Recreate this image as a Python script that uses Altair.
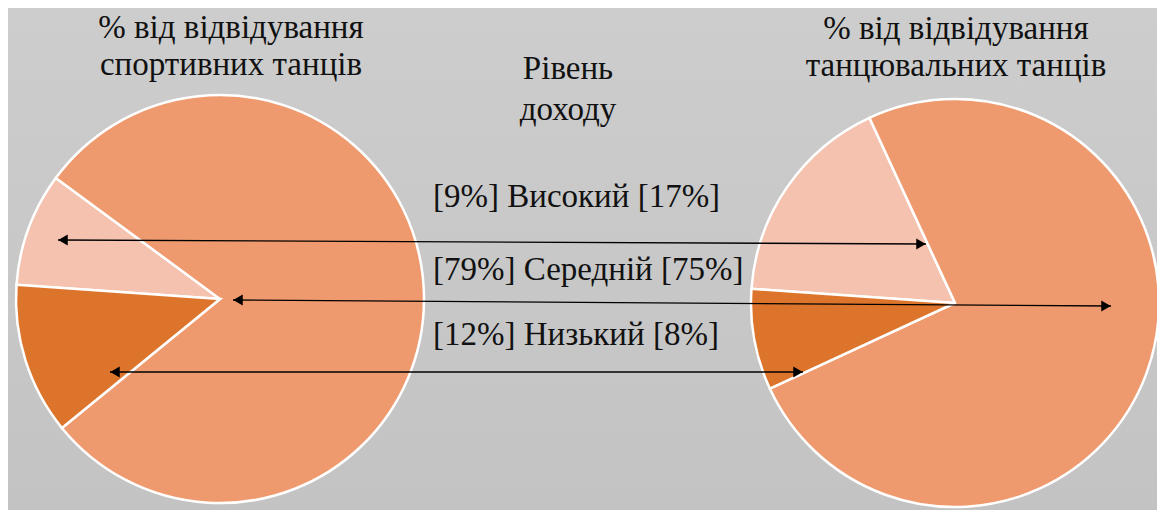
import math
import altair as alt
import pandas as pd

# ---- data ----
categories = ["Високий", "Середній", "Низький"]
sport_pct = [9, 79, 12]        # % від відвідування спортивних танців
ballroom_pct = [17, 75, 8]     # % від відвідування танцювальних танців
slice_colors = ["#f4c2ae", "#ef9a6e", "#dd742b"]
left_title = ["% від відвідування", "спортивних танців"]
right_title = ["% від відвідування", "танцювальних танців"]
center_title = ["Рівень", "доходу"]

# ---- layout ----
W, H = 1149, 502
FONT = "Liberation Serif"
FS = 33
R = 204
START = math.radians(274)
LEFT_C = (212, 291)
RIGHT_C = (947, 295)
LABEL_X = 425
LABEL_Y = [199, 272, 337]
TITLE_Y = [30, 67]
# arrow tips (left tip, right tip) in view pixels, one per category
ARROWS = [((50, 232), (918, 236)),
          ((225, 292), (1103, 298)),
          ((102, 364), (795, 364))]

base = pd.DataFrame({"k": [0]})

bg = alt.Chart(base).mark_rect(
    fill=alt.Gradient(gradient="linear",
                      stops=[alt.GradientStop(color="#cdcdcd", offset=0),
                             alt.GradientStop(color="#c3c3c3", offset=1)],
                      x1=0, x2=0, y1=0, y2=1)
).encode(x=alt.value(0), x2=alt.value(W), y=alt.value(0), y2=alt.value(H))


def pie(values, center):
    df = pd.DataFrame({"cat": categories, "val": values,
                       "idx": list(range(len(categories)))})
    return alt.Chart(df).mark_arc(radius=R, stroke="white", strokeWidth=2.5).encode(
        theta=alt.Theta("val:Q", stack=True,
                        scale=alt.Scale(domain=[0, 100],
                                        range=[START, START + 2 * math.pi])),
        color=alt.Color("cat:N", scale=alt.Scale(domain=categories, range=slice_colors),
                        legend=None),
        order=alt.Order("idx:Q"),
        x=alt.value(center[0]),
        y=alt.value(center[1]),
    )


def text_line(s, x, y, align="center"):
    return alt.Chart(base).mark_text(
        text=s, font=FONT, fontSize=FS, fill="#111111",
        align=align, baseline="alphabetic"
    ).encode(x=alt.value(x), y=alt.value(y))


layers = [bg, pie(sport_pct, LEFT_C), pie(ballroom_pct, RIGHT_C)]

# arrows
xs = alt.Scale(domain=[0, W], range=[0, W])
ys = alt.Scale(domain=[0, H], range=[0, H])
for (l, r) in ARROWS:
    seg = pd.DataFrame({"x": [l[0]], "y": [l[1]], "x2": [r[0]], "y2": [r[1]]})
    layers.append(alt.Chart(seg).mark_rule(color="#000000", strokeWidth=1.3).encode(
        x=alt.X("x:Q", scale=xs, axis=None), y=alt.Y("y:Q", scale=ys, axis=None),
        x2="x2:Q", y2="y2:Q"))
    heads = pd.DataFrame({"x": [l[0] + 5, r[0] - 5], "y": [l[1], r[1]],
                          "s": ["triangle-left", "triangle-right"]})
    layers.append(alt.Chart(heads).mark_point(filled=True, opacity=1, color="#000000",
                                              size=120).encode(
        x=alt.X("x:Q", scale=xs, axis=None), y=alt.Y("y:Q", scale=ys, axis=None),
        shape=alt.Shape("s:N", scale=None, legend=None)))

# titles
for i, s in enumerate(left_title):
    layers.append(text_line(s, 223, TITLE_Y[i]))
for i, s in enumerate(right_title):
    layers.append(text_line(s, 948, TITLE_Y[i] + 1))
for i, s in enumerate(center_title):
    layers.append(text_line(s, 560, 71 + 41 * i))

# category labels
for i, c in enumerate(categories):
    layers.append(text_line(f"[{sport_pct[i]}%] {c} [{ballroom_pct[i]}%]",
                            LABEL_X, LABEL_Y[i], align="left"))

chart = alt.layer(*layers).properties(
    width=W, height=H, padding=0, background="#c8c8c8",
    autosize=alt.AutoSizeParams(type="none")
).configure_view(stroke=None)

chart.save("out.html", embed_options={"renderer": "svg", "actions": False})
